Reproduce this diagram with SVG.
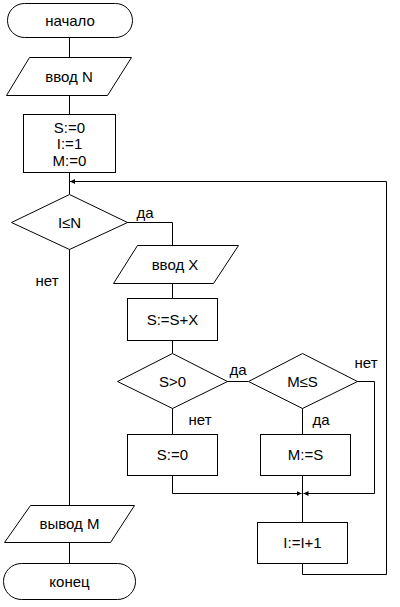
<svg xmlns="http://www.w3.org/2000/svg" width="400" height="607" viewBox="0 0 400 607">
<style>
.s{fill:#fff;stroke:#000;stroke-width:1}
.c{fill:none;stroke:#000;stroke-width:1}
text{font-family:"Liberation Sans",Arial,sans-serif;font-size:15px;fill:#000;text-anchor:middle;dominant-baseline:central}
</style>
<defs>
<marker id="ar" markerUnits="userSpaceOnUse" markerWidth="6" markerHeight="6" refX="5" refY="3" orient="auto">
<path d="M0,0.5 L5,3 L0,5.5 Z" fill="#000"/>
</marker>
</defs>
<rect width="400" height="607" fill="#fff"/>
<g id="connectors">
<path class="c" d="M69.5,37 V57"/>
<path class="c" d="M69.5,95 V114"/>
<path class="c" d="M69.5,172 V194"/>
<path class="c" d="M302.5,563 V574.5 H386.5 V181.5 H70" marker-end="url(#ar)"/>
<path class="c" d="M127,222.5 H172.5 V245"/>
<path class="c" d="M172.5,283 V298"/>
<path class="c" d="M172.5,340 V353"/>
<path class="c" d="M227,381.5 H248"/>
<path class="c" d="M172.5,408 V434"/>
<path class="c" d="M302.5,408 V434"/>
<path class="c" d="M357,381.5 H374.5 V493.5 H303.5" marker-end="url(#ar)"/>
<path class="c" d="M172.5,475 V493.5 H301.5" marker-end="url(#ar)"/>
<path class="c" d="M302.5,475 V522"/>
<path class="c" d="M69.5,249 V505"/>
<path class="c" d="M69.5,542 V563"/>
</g>
<g id="start"><rect class="s" x="7.5" y="3.5" width="125" height="34" rx="17"/><text x="70" y="20">начало</text></g>
<g id="inputN"><polygon class="s" points="29.5,57.5 131.5,57.5 107.5,95.5 6.5,95.5"/><text x="69" y="76">ввод N</text></g>
<g id="init"><rect class="s" x="23.5" y="114.5" width="92" height="58"/><text x="69.5" y="127">S:=0</text><text x="69.5" y="143.5">I:=1</text><text x="69.5" y="160">M:=0</text></g>
<g id="condIN"><polygon class="s" points="69.5,194.5 127.5,222.5 69.5,249.5 11.5,222.5"/><text x="69.5" y="222">I≤N</text></g>
<text x="145" y="212">да</text>
<text x="47" y="280">нет</text>
<g id="inputX"><polygon class="s" points="137.5,245.5 238.5,245.5 213.5,283.5 113.5,283.5"/><text x="175" y="264">ввод X</text></g>
<g id="sum"><rect class="s" x="127.5" y="298.5" width="90" height="42"/><text x="172.5" y="319">S:=S+X</text></g>
<g id="condS"><polygon class="s" points="172.5,353.5 227.5,381.5 172.5,408.5 117.5,381.5"/><text x="172.5" y="381">S&gt;0</text></g>
<text x="238" y="369">да</text>
<g id="condM"><polygon class="s" points="302.5,353.5 357.5,381.5 302.5,408.5 248.5,381.5"/><text x="302.5" y="381">M≤S</text></g>
<text x="366" y="362">нет</text>
<text x="200" y="419">нет</text>
<text x="321" y="419">да</text>
<g id="reset"><rect class="s" x="127.5" y="434.5" width="90" height="41"/><text x="172.5" y="454.5">S:=0</text></g>
<g id="setM"><rect class="s" x="260.5" y="434.5" width="90" height="41"/><text x="305.5" y="454.5">M:=S</text></g>
<g id="inc"><rect class="s" x="257.5" y="522.5" width="90" height="41"/><text x="302.5" y="542.5">I:=I+1</text></g>
<g id="outputM"><polygon class="s" points="30.5,505.5 134.5,505.5 110.5,542.5 4.5,542.5"/><text x="69.5" y="523.5">вывод M</text></g>
<g id="end"><rect class="s" x="3.5" y="563.5" width="132" height="36" rx="18"/><text x="69.5" y="581">конец</text></g>
</svg>
